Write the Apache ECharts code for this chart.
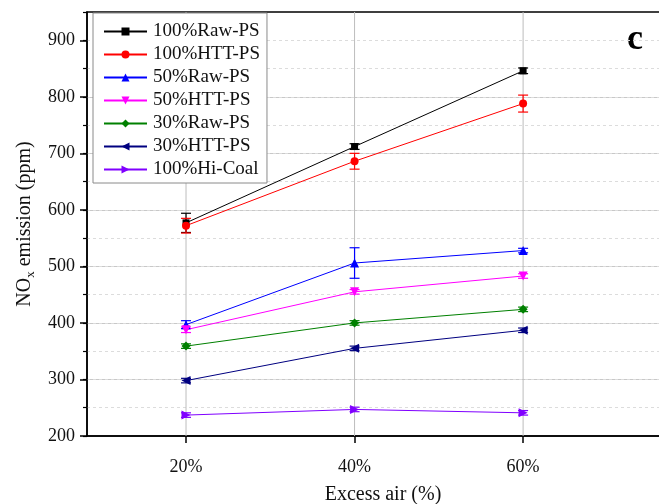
<!DOCTYPE html>
<html>
<head>
<meta charset="utf-8">
<script src="https://cdn.jsdelivr.net/npm/echarts@6/dist/echarts.min.js"></script>
<style>
  html, body { margin: 0; padding: 0; background: #fff; }
  #chart { width: 659px; height: 504px; }
</style>
</head>
<body>
<div id="chart"></div>
<script>
// Excess air levels (%)
const excessAir = [20, 40, 60];

// Series names
const names = ['100%Raw-PS', '100%HTT-PS', '50%Raw-PS', '50%HTT-PS', '30%Raw-PS', '30%HTT-PS', '100%Hi-Coal'];

// NOx emission (ppm) per series at 20%, 40%, 60% excess air
const raw100 = [577, 712, 846];
const htt100 = [572, 686, 788];
const raw50 = [397, 506, 528];
const htt50 = [388, 455, 483];
const raw30 = [359, 400, 424];
const htt30 = [298, 355, 387];
const hiCoal = [237, 247, 241];

// Error bar half-widths (ppm)
const raw100Err = [17, 5, 5];
const htt100Err = [13, 14, 15];
const raw50Err = [7, 27, 4];
const htt50Err = [5, 4, 4];
const raw30Err = [4, 4, 4];
const htt30Err = [4, 4, 4];
const hiCoalErr = [4, 4, 4];

// Y tick labels
const yTicks = [200, 300, 400, 500, 600, 700, 800, 900];

const values = [raw100, htt100, raw50, htt50, raw30, htt30, hiCoal];
const errors = [raw100Err, htt100Err, raw50Err, htt50Err, raw30Err, htt30Err, hiCoalErr];
const colors = ['#000000', '#ff0000', '#0000ff', '#ff00ff', '#008000', '#000080', '#8000ff'];
const symbols = ['rect', 'circle', 'triangle', 'triangle', 'diamond', 'triangle', 'triangle'];
const rotations = [0, 0, 0, 180, 0, 90, -90];
const sizes = [7, 8, 9, 9, 9, 9, 9];

const serif = '"Liberation Serif", "Times New Roman", serif';

const chart = echarts.init(document.getElementById('chart'));

const series = [];

// vertical guide lines at each excess-air level
series.push({
  type: 'custom',
  name: 'guides',
  silent: true,
  z: 1,
  data: excessAir.map(x => [x]),
  renderItem: function (params, api) {
    const cs = params.coordSys;
    const p = api.coord([api.value(0), 200]);
    return {
      type: 'line',
      shape: { x1: p[0], y1: cs.y, x2: p[0], y2: cs.y + cs.height },
      style: { stroke: '#bdbdbd', lineWidth: 1 }
    };
  }
});

names.forEach((name, i) => {
  series.push({
    type: 'line',
    name: name,
    z: 4,
    data: excessAir.map((x, j) => [x, values[i][j]]),
    symbol: symbols[i],
    symbolRotate: rotations[i],
    symbolSize: sizes[i],
    itemStyle: { color: colors[i] },
    lineStyle: { color: colors[i], width: 1 }
  });
  series.push({
    type: 'custom',
    name: 'err-' + name,
    z: 3,
    silent: true,
    data: excessAir.map((x, j) => [x, values[i][j] - errors[i][j], values[i][j] + errors[i][j]]),
    renderItem: function (params, api) {
      const lo = api.coord([api.value(0), api.value(1)]);
      const hi = api.coord([api.value(0), api.value(2)]);
      const w = 5;
      const st = { stroke: colors[i], lineWidth: 1.2 };
      return {
        type: 'group',
        children: [
          { type: 'line', shape: { x1: lo[0], y1: lo[1], x2: hi[0], y2: hi[1] }, style: st },
          { type: 'line', shape: { x1: lo[0] - w, y1: lo[1], x2: lo[0] + w, y2: lo[1] }, style: st },
          { type: 'line', shape: { x1: hi[0] - w, y1: hi[1], x2: hi[0] + w, y2: hi[1] }, style: st }
        ]
      };
    }
  });
});

chart.setOption({
  animation: false,
  backgroundColor: '#fff',
  grid: {
    left: 87, width: 592, top: 12, bottom: 68,
    outerBoundsMode: 'none',
    containLabel: false,
    show: true, borderColor: '#000', borderWidth: 1.5, backgroundColor: 'transparent'
  },
  legend: {
    data: names,
    orient: 'vertical',
    left: 93, top: 13,
    padding: [9, 7, 4, 10],
    itemWidth: 43, itemHeight: 10, itemGap: 4,
    backgroundColor: '#fff',
    borderColor: '#8a8a8a', borderWidth: 1,
    textStyle: { fontFamily: serif, fontSize: 19, color: '#111', padding: [0, 0, 0, 1] }
  },
  xAxis: {
    type: 'value',
    min: 8.25, max: 78.5,
    name: 'Excess air (%)',
    nameLocation: 'middle',
    nameGap: 49,
    nameTextStyle: { fontFamily: serif, fontSize: 20, color: '#111' },
    axisLine: { onZero: false, lineStyle: { color: '#000', width: 1.5 } },
    axisTick: { customValues: excessAir, length: 7, lineStyle: { color: '#000', width: 1.5 } },
    axisLabel: { customValues: excessAir, formatter: v => v + '%', fontFamily: serif, fontSize: 18, color: '#111', margin: 22 },
    splitLine: { show: false }
  },
  yAxis: [
    {
      type: 'value',
      min: 200, max: 950, interval: 100,
      name: 'NO{sub|x} emission (ppm)',
      nameLocation: 'middle',
      nameGap: 50,
      nameTextStyle: {
        fontFamily: serif, fontSize: 20, color: '#111',
        rich: { sub: { fontFamily: serif, fontSize: 13, color: '#111', verticalAlign: 'bottom', padding: [12, 0, 0, 0] } }
      },
      axisLine: { onZero: false, lineStyle: { color: '#000', width: 1.5 } },
      axisTick: { customValues: yTicks, length: 7, lineStyle: { color: '#000', width: 1.5 } },
      axisLabel: { customValues: yTicks, fontFamily: serif, fontSize: 18, color: '#111', margin: 12 },
      splitLine: { showMaxLine: false, showMinLine: false, lineStyle: { color: '#c8c8c8', width: 1.2 } }
    },
    {
      type: 'value',
      min: 200, max: 950, interval: 50,
      position: 'left',
      axisLine: { show: false },
      axisTick: { show: true, length: 4, lineStyle: { color: '#000', width: 1.2 } },
      axisLabel: { show: false },
      splitLine: { showMaxLine: false, showMinLine: false, lineStyle: { color: '#dcdcdc', type: [3, 3], width: 1 } }
    }
  ],
  graphic: [
    {
      type: 'text',
      left: 627, top: 22,
      style: { text: 'c', fontFamily: serif, fontSize: 36, fontWeight: 'bold', fill: '#000' }
    }
  ],
  series: series
});
</script>
</body>
</html>
